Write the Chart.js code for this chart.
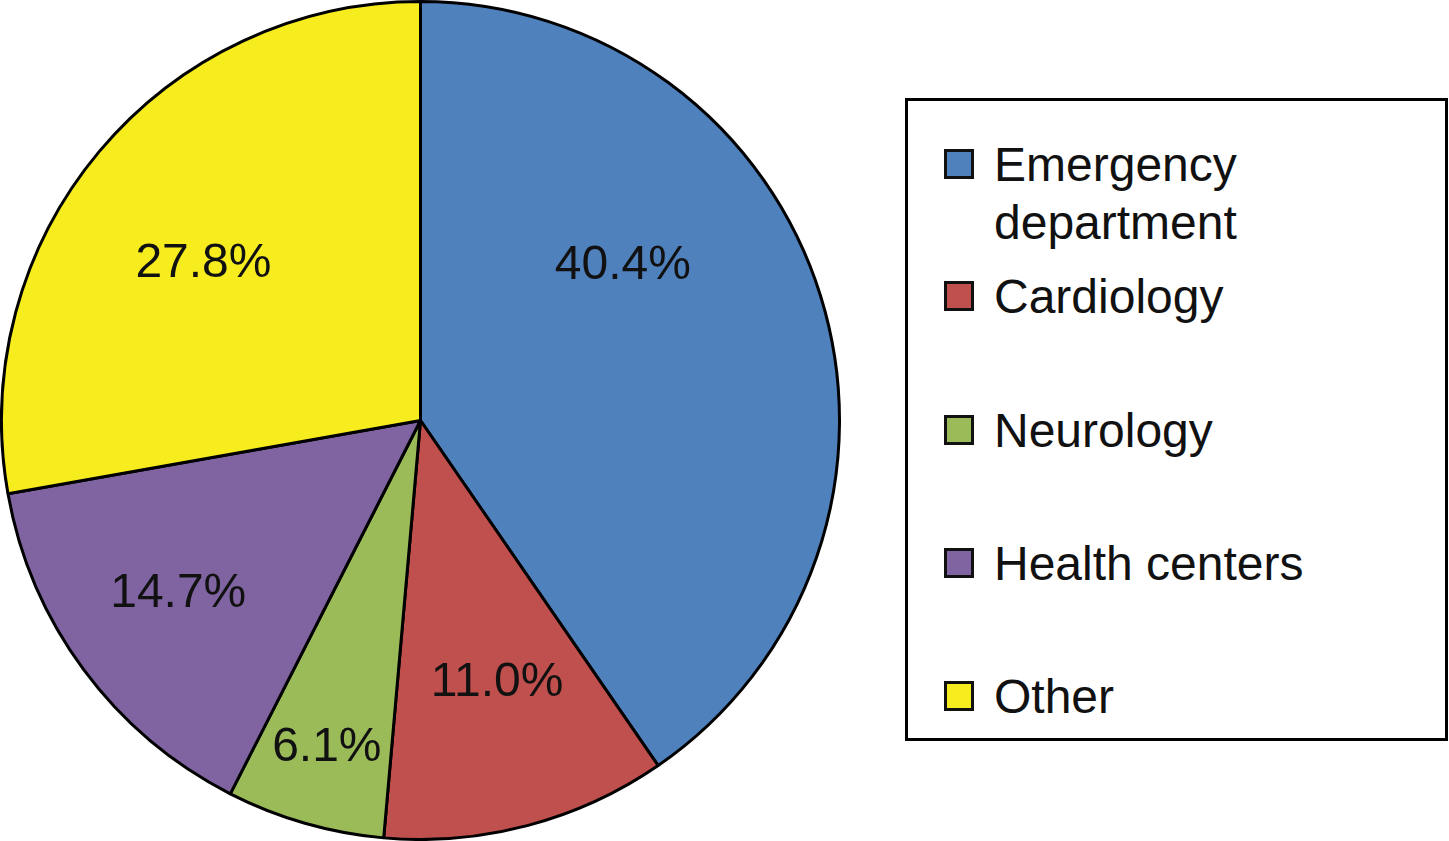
<!DOCTYPE html>
<html>
<head>
<meta charset="utf-8">
<script src="https://cdn.jsdelivr.net/npm/chart.js@4"></script>
<style>
  html, body { margin: 0; padding: 0; background: #fff; overflow: hidden; }
  #pieWrap { position: absolute; left: 0; top: 0; width: 841px; height: 841px; }
  #legendBox {
    position: absolute; left: 905px; top: 98px; width: 537px; height: 637px;
    border: 3px solid #000; font-family: "Liberation Sans", Arial, sans-serif;
    font-size: 48px; color: #111;
  }
  .legendItem { position: absolute; left: 36px; }
  .legendSwatch {
    position: absolute; left: 0; top: 13px; width: 24px; height: 24px;
    border: 3px solid #111;
  }
  .legendText { position: absolute; left: 50px; width: 330px; line-height: 58px; white-space: normal; }
</style>
</head>
<body>
<div id="pieWrap"><canvas id="pieChart"></canvas></div>
<div id="legendBox"></div>
<script>
// chart data
const categories = ["Emergency department", "Cardiology", "Neurology", "Health centers", "Other"];
const shares = [40.4, 11.0, 6.1, 14.7, 27.8];
const sliceColors = ["#4f81bd", "#c0504d", "#9bbb59", "#8064a2", "#f7ec1e"];

// where each percentage sits inside its slice (fraction of slice angle, fraction of radius)
const labelPlacement = [
    { along: 0.36, out: 0.61 },
    { along: 0.46, out: 0.65 },
    { along: 0.50, out: 0.81 },
    { along: 0.52, out: 0.71 },
    { along: 0.46, out: 0.64 }
];

const FONT = '"Liberation Sans", Arial, sans-serif';

// draws the percentage inside every slice
const sliceLabelPlugin = {
    id: "sliceLabels",
    afterDatasetsDraw(chart) {
        const ctx = chart.ctx;
        const meta = chart.getDatasetMeta(0);
        const size = 48;
        ctx.save();
        ctx.font = size + "px " + FONT;
        ctx.fillStyle = "#111";
        ctx.textAlign = "center";
        ctx.textBaseline = "alphabetic";
        meta.data.forEach(function (arc, i) {
            const p = labelPlacement[i];
            const angle = arc.startAngle + p.along * (arc.endAngle - arc.startAngle);
            const r = arc.outerRadius * p.out;
            const x = arc.x + Math.cos(angle) * r;
            const y = arc.y + Math.sin(angle) * r;
            ctx.fillText(shares[i].toFixed(1) + "%", x, y + size * 0.716 / 2 - 3);
        });
        ctx.restore();
    }
};

const ctx = document.getElementById("pieChart").getContext("2d");
const chartObject = new Chart(ctx, {
    type: "pie",
    data: {
        labels: categories,
        datasets: [{
            data: shares,
            backgroundColor: sliceColors,
            borderColor: "#000",
            borderWidth: 3
        }]
    },
    options: {
        responsive: true,
        maintainAspectRatio: false,
        animation: false,
        events: [],
        layout: { padding: 0 },
        plugins: {
            legend: { display: false },
            tooltip: { enabled: false }
        }
    },
    plugins: [sliceLabelPlugin]
});

// html legend built from the same arrays
const legendBox = document.getElementById("legendBox");
const rowTops = [35, 167, 301, 434, 567];
categories.forEach(function (name, i) {
    const item = document.createElement("div");
    item.className = "legendItem";
    item.style.top = rowTops[i] + "px";
    const sw = document.createElement("div");
    sw.className = "legendSwatch";
    sw.style.background = sliceColors[i];
    const txt = document.createElement("div");
    txt.className = "legendText";
    txt.textContent = name;
    item.appendChild(sw);
    item.appendChild(txt);
    legendBox.appendChild(item);
});
</script>
</body>
</html>
